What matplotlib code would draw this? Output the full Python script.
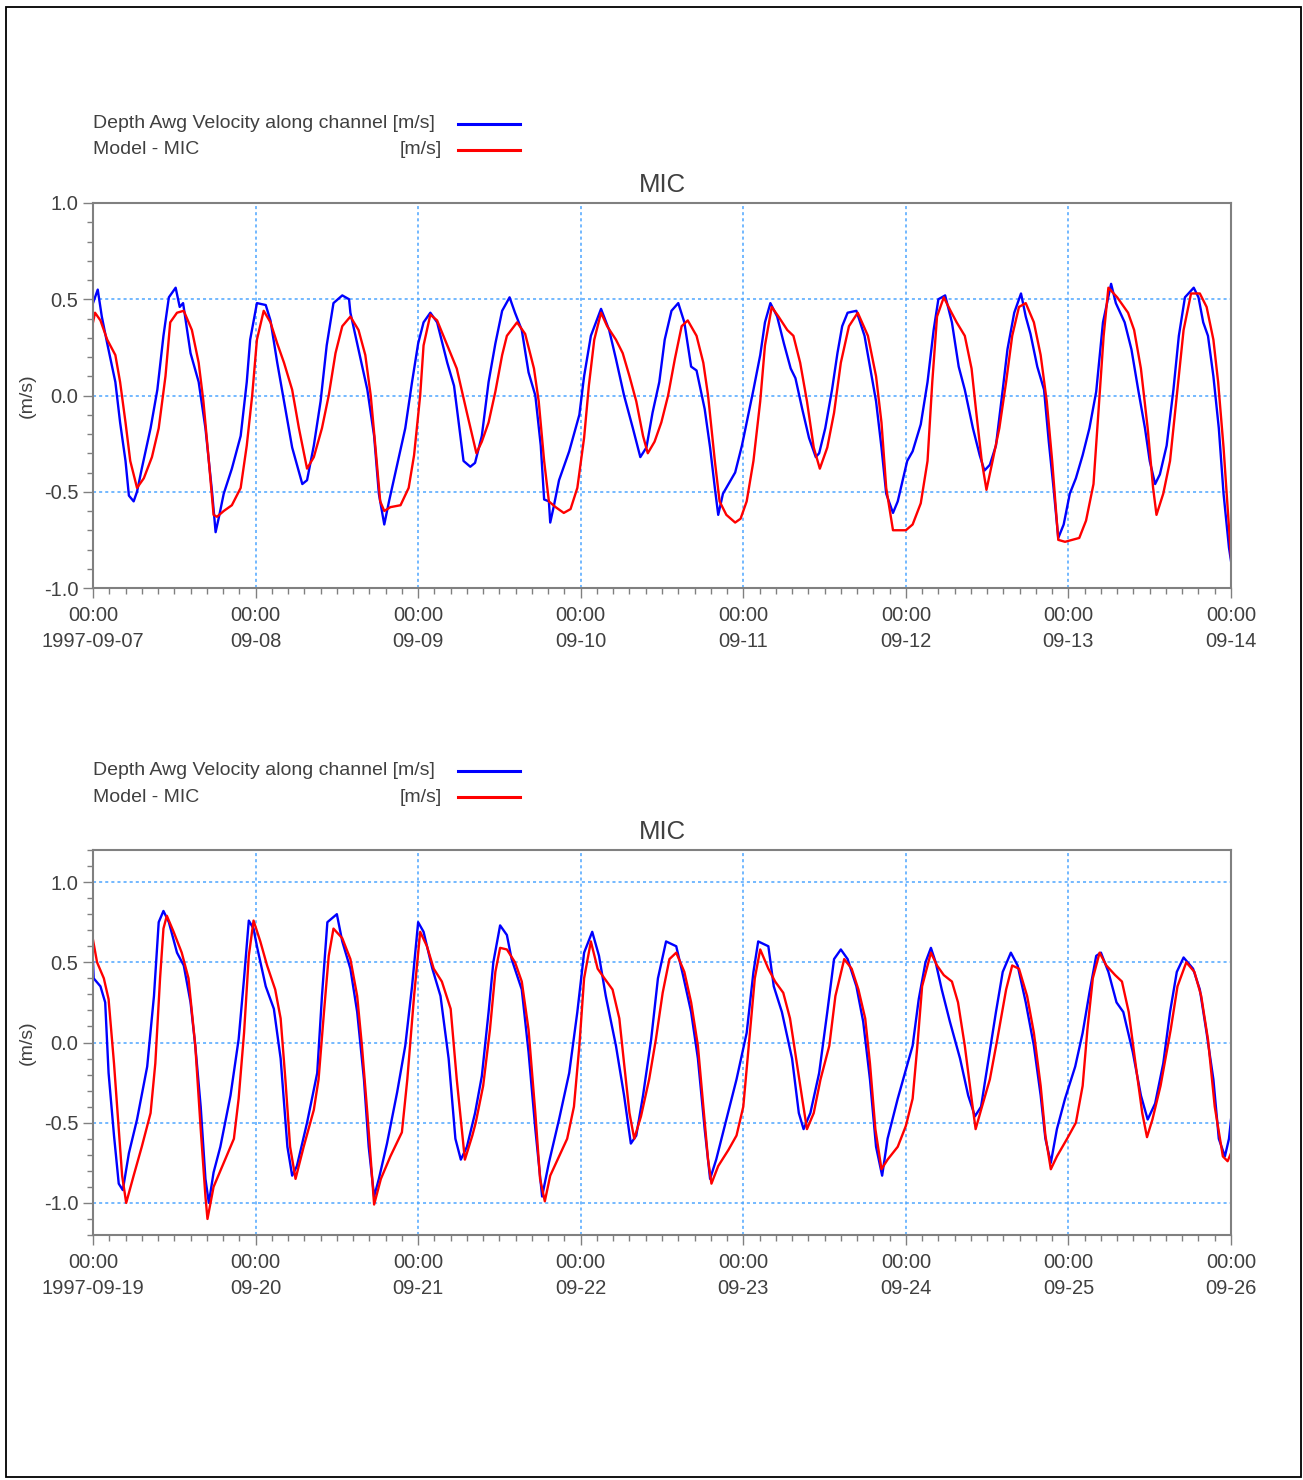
"""Observed vs modelled depth-averaged velocity at MIC, two one-week windows."""

import matplotlib

matplotlib.use("Agg")
import matplotlib.pyplot as plt  # noqa: E402
import numpy as np  # noqa: E402
import pandas as pd  # noqa: E402
from matplotlib.lines import Line2D  # noqa: E402
from matplotlib.patches import Rectangle  # noqa: E402
from matplotlib.ticker import FuncFormatter, MultipleLocator  # noqa: E402

# ---- data: hours since window start, velocity in m/s ----
TOP_START = "1997-09-07"
BOT_START = "1997-09-19"

TOP_OBS_T = [0, 0.7, 1.3, 2.1, 3.3, 4.0, 4.8, 5.3, 6.0, 6.5, 7.2, 8.5, 9.5, 10.4, 11.2, 12.2,
             12.8, 13.3, 14.4, 15.6, 16.6, 17.6, 18.1, 18.6, 19.3, 20.5, 21.8, 22.7, 23.2,
             24.2, 25.5, 26.2, 27.2, 28.2, 29.4, 30.9, 31.6, 32.6, 33.6, 34.5, 35.5, 36.8,
             37.8, 38.0, 39.0, 40.5, 41.5, 42.2, 43.0, 43.7, 44.9, 46.1, 47.1, 48.0, 48.8,
             49.8, 50.8, 52.3, 53.3, 54.7, 55.7, 56.4, 57.4, 58.4, 59.4, 60.4, 61.5, 62.3,
             63.3, 64.3, 65.3, 66.1, 66.6, 67.3, 67.5, 68.0, 68.8, 70.3, 71.8, 72.5, 73.5,
             75.0, 76.2, 77.2, 78.4, 79.7, 80.8, 81.7, 82.6, 83.6, 84.4, 85.4, 86.4, 87.3,
             88.3, 89.1, 90.3, 91.1, 91.8, 92.3, 93.0, 94.8, 95.8, 96.5, 97.5, 98.5, 99.2,
             100.0, 101.0, 102.0, 103.0, 103.7, 104.7, 105.7, 106.7, 107.2, 108.1, 109.1,
             109.9, 110.6, 111.4, 112.7, 113.9, 115.1, 115.6, 116.4, 117.1, 118.1, 118.8,
             120.2, 121.0, 122.2, 123.2, 124.1, 124.8, 125.8, 126.8, 127.8, 128.7, 129.9,
             130.9, 131.6, 132.4, 133.3, 134.3, 135.0, 136.0, 137.0, 137.7, 138.4, 139.4,
             140.4, 141.1, 141.8, 142.5, 143.3, 144.2, 145.1, 146.1, 147.1, 148.1, 149.1,
             150.3, 151.0, 152.3, 153.3, 154.3, 155.3, 156.0, 156.8, 157.5, 158.5, 159.5,
             160.3, 161.2, 162.5, 163.2, 163.9, 164.6, 165.4, 166.2, 166.9, 167.7, 168.0]
TOP_OBS_V = [0.48, 0.55, 0.41, 0.27, 0.07, -0.14, -0.34, -0.52, -0.55, -0.50, -0.38, -0.17,
             0.03, 0.31, 0.51, 0.56, 0.46, 0.48, 0.22, 0.07, -0.17, -0.51, -0.71, -0.63,
             -0.51, -0.38, -0.21, 0.07, 0.29, 0.48, 0.47, 0.39, 0.17, -0.03, -0.27, -0.46,
             -0.44, -0.26, -0.03, 0.26, 0.48, 0.52, 0.50, 0.43, 0.27, 0.03, -0.21, -0.51,
             -0.67, -0.55, -0.36, -0.17, 0.07, 0.27, 0.38, 0.43, 0.38, 0.17, 0.05, -0.34,
             -0.37, -0.35, -0.21, 0.07, 0.27, 0.44, 0.51, 0.43, 0.34, 0.12, 0.0, -0.26,
             -0.54, -0.55, -0.66, -0.58, -0.44, -0.29, -0.10, 0.10, 0.31, 0.45, 0.34, 0.19,
             0.0, -0.17, -0.32, -0.27, -0.09, 0.07, 0.29, 0.44, 0.48, 0.38, 0.15, 0.13,
             -0.07, -0.27, -0.48, -0.62, -0.51, -0.40, -0.26, -0.14, 0.03, 0.21, 0.38, 0.48,
             0.41, 0.27, 0.14, 0.09, -0.07, -0.22, -0.32, -0.30, -0.17, 0.03, 0.22, 0.36,
             0.43, 0.44, 0.31, 0.07, -0.03, -0.27, -0.51, -0.61, -0.55, -0.34, -0.29, -0.15,
             0.07, 0.34, 0.50, 0.52, 0.38, 0.15, 0.03, -0.17, -0.31, -0.39, -0.36, -0.26,
             0.03, 0.24, 0.43, 0.53, 0.41, 0.32, 0.15, 0.03, -0.24, -0.48, -0.74, -0.67,
             -0.51, -0.43, -0.31, -0.17, 0.02, 0.38, 0.58, 0.48, 0.38, 0.24, 0.03, -0.17,
             -0.34, -0.46, -0.41, -0.26, 0.03, 0.31, 0.51, 0.56, 0.51, 0.38, 0.31, 0.10,
             -0.17, -0.51, -0.79, -0.86]

TOP_MOD_T = [0, 0.3, 1.1, 2.1, 3.3, 4.0, 4.8, 5.5, 6.5, 7.5, 8.7, 9.7, 10.7, 11.4, 12.4, 13.4,
             14.6, 15.6, 16.3, 17.1, 17.8, 18.3, 19.3, 20.5, 21.8, 22.7, 23.5, 24.2, 25.2,
             26.2, 27.2, 28.2, 29.4, 30.4, 31.6, 32.6, 33.8, 34.8, 35.8, 36.8, 38.0, 39.2,
             40.2, 41.0, 41.7, 42.4, 43.0, 43.9, 45.4, 46.6, 47.4, 48.3, 48.8, 49.8, 50.8,
             52.3, 53.7, 55.2, 56.6, 57.4, 58.4, 59.4, 60.4, 61.1, 62.6, 63.8, 65.1, 65.8,
             66.6, 67.3, 68.3, 69.5, 70.5, 71.5, 72.5, 73.2, 74.0, 75.0, 75.9, 77.2, 78.2,
             79.2, 80.2, 81.2, 81.9, 82.9, 83.9, 84.9, 85.9, 86.9, 87.8, 89.1, 90.1, 90.8,
             91.8, 92.5, 93.5, 94.8, 95.6, 96.5, 97.5, 98.5, 99.2, 100.2, 101.2, 102.5, 103.4,
             104.4, 105.4, 106.4, 107.3, 108.4, 109.4, 110.4, 111.6, 112.9, 114.4, 115.6,
             116.4, 117.1, 118.1, 120.0, 121.0, 122.2, 123.2, 123.9, 124.6, 125.6, 126.6,
             127.5, 128.7, 129.7, 130.4, 131.2, 131.9, 132.8, 133.8, 134.8, 135.7, 136.7,
             137.7, 138.9, 139.9, 140.8, 141.6, 142.5, 143.5, 145.6, 146.6, 147.7, 148.4,
             149.2, 149.9, 151.2, 152.8, 153.7, 154.7, 155.7, 156.5, 157.0, 158.0, 159.0,
             160.0, 161.0, 162.1, 163.4, 164.4, 165.4, 166.1, 166.9, 167.7, 168.0]
TOP_MOD_V = [0.38, 0.43, 0.39, 0.29, 0.21, 0.07, -0.14, -0.34, -0.48, -0.43, -0.32, -0.17,
             0.10, 0.38, 0.43, 0.44, 0.34, 0.17, -0.03, -0.34, -0.62, -0.63, -0.60, -0.57,
             -0.48, -0.26, 0.0, 0.29, 0.44, 0.38, 0.27, 0.17, 0.03, -0.17, -0.38, -0.32,
             -0.17, 0.0, 0.22, 0.36, 0.41, 0.34, 0.21, 0.0, -0.27, -0.55, -0.60, -0.58,
             -0.57, -0.48, -0.31, 0.0, 0.26, 0.42, 0.39, 0.26, 0.14, -0.09, -0.30, -0.24,
             -0.14, 0.02, 0.21, 0.31, 0.38, 0.32, 0.14, -0.03, -0.34, -0.55, -0.58, -0.61,
             -0.59, -0.48, -0.22, 0.05, 0.29, 0.43, 0.36, 0.29, 0.22, 0.10, -0.03, -0.21,
             -0.30, -0.24, -0.14, 0.0, 0.19, 0.36, 0.39, 0.31, 0.17, 0.0, -0.34, -0.55,
             -0.62, -0.66, -0.64, -0.55, -0.34, -0.03, 0.26, 0.46, 0.41, 0.34, 0.31, 0.17,
             -0.03, -0.27, -0.38, -0.27, -0.09, 0.17, 0.36, 0.43, 0.31, 0.10, -0.14, -0.48,
             -0.70, -0.70, -0.67, -0.56, -0.34, 0.07, 0.41, 0.51, 0.44, 0.38, 0.31, 0.14,
             -0.09, -0.34, -0.49, -0.34, -0.17, 0.07, 0.31, 0.46, 0.48, 0.38, 0.21, -0.03,
             -0.34, -0.75, -0.76, -0.74, -0.65, -0.46, -0.10, 0.31, 0.56, 0.51, 0.43, 0.34,
             0.14, -0.17, -0.48, -0.62, -0.51, -0.34, 0.0, 0.34, 0.53, 0.53, 0.46, 0.29,
             0.07, -0.27, -0.68, -0.84]

BOT_OBS_T = [0, 0.1, 1.1, 1.8, 2.3, 3.1, 3.8, 4.4, 5.3, 6.5, 8.0, 9.0, 9.7, 10.4, 11.2, 12.4,
             13.4, 14.4, 15.1, 15.9, 16.6, 17.1, 17.8, 18.8, 20.3, 21.5, 22.3, 23.0, 23.7,
             24.2, 25.5, 26.7, 27.7, 28.7, 29.4, 30.1, 31.6, 33.1, 33.8, 34.6, 36.0, 36.8,
             38.0, 39.0, 40.0, 40.7, 41.5, 42.2, 43.4, 44.9, 46.1, 47.1, 48.0, 48.8, 50.1,
             51.3, 52.5, 53.5, 54.3, 55.2, 56.4, 57.4, 58.4, 59.1, 60.1, 61.1, 61.8, 63.3,
             64.3, 65.3, 66.3, 67.3, 68.8, 70.3, 71.5, 72.5, 73.7, 74.7, 75.7, 77.2, 78.4,
             79.4, 80.2, 81.2, 82.4, 83.4, 84.6, 86.1, 87.1, 88.3, 89.3, 90.3, 91.1, 92.0,
             93.5, 95.0, 96.5, 97.5, 98.2, 99.7, 100.5, 101.7, 103.2, 104.2, 104.9, 105.9,
             107.2, 108.4, 109.4, 110.4, 111.4, 112.7, 113.7, 114.7, 115.6, 116.5, 117.3,
             118.8, 120.0, 121.0, 121.9, 122.9, 123.7, 124.4, 125.3, 126.5, 128.0, 129.2,
             130.2, 131.1, 132.1, 133.3, 134.3, 135.5, 136.5, 137.7, 138.9, 139.9, 140.6,
             141.4, 142.3, 143.5, 145.0, 146.1, 147.1, 148.1, 148.8, 149.9, 151.1, 152.1,
             153.5, 154.7, 155.7, 156.8, 158.0, 159.0, 160.0, 161.0, 162.4, 163.4, 164.4,
             165.4, 166.2, 167.1, 167.7, 168.0]
BOT_OBS_V = [0.50, 0.40, 0.35, 0.25, -0.19, -0.58, -0.88, -0.92, -0.69, -0.48, -0.15, 0.29,
             0.75, 0.82, 0.75, 0.56, 0.48, 0.25, -0.02, -0.40, -0.85, -1.0, -0.81, -0.65,
             -0.33, 0.02, 0.40, 0.76, 0.71, 0.60, 0.35, 0.21, -0.10, -0.65, -0.83, -0.77,
             -0.50, -0.19, 0.29, 0.75, 0.80, 0.63, 0.46, 0.19, -0.23, -0.65, -0.96, -0.85,
             -0.63, -0.31, -0.02, 0.35, 0.75, 0.69, 0.46, 0.29, -0.10, -0.60, -0.73, -0.65,
             -0.44, -0.21, 0.19, 0.50, 0.73, 0.67, 0.52, 0.33, -0.06, -0.54, -0.96, -0.75,
             -0.48, -0.19, 0.19, 0.56, 0.69, 0.54, 0.29, -0.02, -0.33, -0.63, -0.58, -0.33,
             0.02, 0.40, 0.63, 0.60, 0.42, 0.19, -0.10, -0.54, -0.85, -0.73, -0.48, -0.23,
             0.06, 0.44, 0.63, 0.60, 0.35, 0.19, -0.10, -0.44, -0.54, -0.44, -0.19, 0.19,
             0.52, 0.58, 0.52, 0.35, 0.13, -0.23, -0.65, -0.83, -0.60, -0.35, -0.17, -0.02,
             0.27, 0.50, 0.59, 0.50, 0.33, 0.13, -0.10, -0.33, -0.46, -0.40, -0.13, 0.19,
             0.44, 0.56, 0.48, 0.25, -0.02, -0.33, -0.60, -0.75, -0.54, -0.35, -0.15, 0.06,
             0.31, 0.54, 0.56, 0.44, 0.25, 0.19, -0.06, -0.33, -0.48, -0.38, -0.13, 0.19,
             0.44, 0.53, 0.46, 0.33, 0.06, -0.23, -0.60, -0.71, -0.60, -0.48]

BOT_MOD_T = [0, 0.6, 1.6, 2.3, 3.1, 3.8, 4.3, 4.9, 6.0, 7.2, 8.5, 9.2, 9.9, 10.4, 10.9, 11.9,
             13.1, 14.1, 15.1, 15.9, 16.6, 16.9, 17.8, 19.3, 20.8, 21.5, 22.3, 23.0, 23.7,
             24.7, 25.7, 26.9, 27.7, 28.4, 29.1, 29.9, 31.1, 32.6, 33.3, 34.1, 34.8, 35.5,
             36.8, 38.0, 39.0, 39.7, 40.5, 41.5, 42.5, 43.9, 45.6, 46.4, 47.4, 48.3, 49.3,
             50.3, 51.5, 52.8, 53.7, 54.9, 56.0, 56.5, 57.6, 58.6, 59.4, 60.1, 61.1, 62.3,
             63.3, 64.3, 65.3, 66.0, 66.7, 67.5, 68.8, 70.0, 71.0, 71.8, 72.5, 73.5, 74.5,
             75.5, 76.7, 77.7, 78.4, 79.2, 79.9, 80.9, 82.1, 83.1, 84.1, 85.1, 86.1, 87.3,
             88.3, 89.3, 90.1, 90.8, 91.3, 92.3, 93.8, 95.0, 96.0, 96.8, 97.7, 98.5, 99.7,
             100.7, 101.9, 102.9, 103.9, 104.7, 105.4, 106.4, 107.4, 108.7, 109.6, 110.9,
             112.0, 113.0, 114.0, 114.7, 115.5, 116.4, 117.3, 118.8, 120.0, 121.0, 121.7,
             122.4, 123.7, 124.6, 125.6, 126.8, 127.7, 128.7, 129.7, 130.3, 131.1, 132.4,
             133.5, 134.8, 135.7, 136.7, 137.9, 138.9, 139.9, 140.6, 141.4, 142.3, 143.8,
             145.1, 146.1, 146.8, 147.6, 148.6, 149.6, 150.9, 151.9, 152.9, 153.9, 154.9,
             155.6, 156.4, 157.6, 159.1, 160.1, 161.4, 162.6, 163.6, 164.6, 165.6, 166.8,
             167.5, 168.0]
BOT_MOD_V = [0.64, 0.50, 0.40, 0.27, -0.13, -0.54, -0.83, -1.0, -0.83, -0.65, -0.44, -0.13,
             0.40, 0.71, 0.79, 0.69, 0.56, 0.40, -0.02, -0.54, -0.96, -1.10, -0.90, -0.75,
             -0.60, -0.35, 0.06, 0.54, 0.76, 0.63, 0.48, 0.33, 0.15, -0.23, -0.65, -0.85,
             -0.65, -0.42, -0.23, 0.19, 0.54, 0.71, 0.65, 0.52, 0.29, -0.02, -0.44, -1.01,
             -0.85, -0.71, -0.56, -0.23, 0.29, 0.69, 0.60, 0.46, 0.38, 0.21, -0.23, -0.73,
             -0.58, -0.50, -0.27, 0.08, 0.44, 0.59, 0.58, 0.50, 0.38, 0.08, -0.44, -0.85,
             -0.99, -0.83, -0.71, -0.60, -0.40, -0.02, 0.40, 0.63, 0.46, 0.40, 0.33, 0.15,
             -0.13, -0.44, -0.60, -0.46, -0.23, 0.02, 0.31, 0.52, 0.56, 0.44, 0.25, -0.02,
             -0.40, -0.73, -0.88, -0.77, -0.67, -0.58, -0.40, -0.02, 0.40, 0.58, 0.46, 0.38,
             0.31, 0.15, -0.13, -0.35, -0.54, -0.44, -0.23, -0.02, 0.29, 0.52, 0.46, 0.33,
             0.15, -0.13, -0.54, -0.79, -0.73, -0.65, -0.52, -0.35, -0.02, 0.35, 0.56, 0.48,
             0.42, 0.38, 0.25, -0.02, -0.35, -0.54, -0.42, -0.23, 0.02, 0.33, 0.48, 0.46,
             0.29, 0.06, -0.27, -0.58, -0.79, -0.71, -0.60, -0.50, -0.27, 0.08, 0.40, 0.56,
             0.48, 0.42, 0.38, 0.19, -0.13, -0.44, -0.59, -0.48, -0.27, 0.08, 0.35, 0.50,
             0.44, 0.29, 0.02, -0.40, -0.71, -0.74, -0.69]

OBS_LABEL = "Depth Awg Velocity along channel [m/s]"
MOD_LABEL = "Model - MIC"
MOD_UNITS = "[m/s]"
STATION = "MIC"

W, H = 1303, 1480
TEXT = "#404040"
EDGE = "#808080"
GRID = "#4da6ff"
FONT = ["Liberation Sans", "DejaVu Sans"]


def _times(start, hours):
    return pd.Timestamp(start) + pd.to_timedelta(np.asarray(hours), unit="h")


def _tick_fmt(start):
    t0 = matplotlib.dates.date2num(pd.Timestamp(start))

    def fmt(x, pos):
        d = matplotlib.dates.num2date(x)
        day = d.strftime("%Y-%m-%d") if abs(x - t0) < 1e-6 else d.strftime("%m-%d")
        return f"{d:%H:%M}\n{day}"
    return FuncFormatter(fmt)


def panel(fig, top_px, start, obs_t, obs_v, mod_t, mod_v, ylim, yticks):
    left, right, height = 93, 1231, 385
    ax = fig.add_axes([left / W, 1 - (top_px + height) / H, (right - left) / W, height / H])

    ax.plot(_times(start, obs_t), obs_v, color="#0000ff", lw=1.7)
    ax.plot(_times(start, mod_t), mod_v, color="#ff0000", lw=1.7)

    t0 = pd.Timestamp(start)
    ax.set_xlim(t0, t0 + pd.Timedelta(days=7))
    ax.set_ylim(*ylim)
    ax.xaxis.set_major_locator(MultipleLocator(1))
    ax.xaxis.set_minor_locator(MultipleLocator(0.1))
    ax.xaxis.set_major_formatter(_tick_fmt(start))
    ax.set_yticks(yticks)
    ax.yaxis.set_minor_locator(MultipleLocator(0.1))
    ax.yaxis.set_major_formatter(FuncFormatter(lambda v, p: f"{v:.1f}"))

    ax.tick_params(which="both", direction="out", color=EDGE, width=1.0,
                   labelcolor=TEXT, labelsize=14.5)
    ax.tick_params(which="major", length=7)
    ax.tick_params(which="minor", length=4.2)
    ax.tick_params(axis="x", which="major", pad=6)
    for lab in ax.get_xticklabels():
        lab.set_linespacing(1.45)
    for s in ax.spines.values():
        s.set_color(EDGE)
        s.set_linewidth(1.5)
    ax.grid(which="major", color=GRID, linestyle=(0, (2, 2)), linewidth=1.1)

    ax.set_title(STATION, fontsize=18.5, color=TEXT, pad=8)
    ax.set_ylabel("(m/s)", fontsize=14, color=TEXT)
    ax.yaxis.set_label_coords(-0.05, 0.5)

    # legend sits above the axes: labels left, units right-aligned, swatch after
    rows = [(OBS_LABEL, "", "#0000ff"), (MOD_LABEL, MOD_UNITS, "#ff0000")]
    for row, (label, units, color) in enumerate(rows):
        y = 1 - (top_px - 79 + 26 * row) / H
        fig.text(93 / W, y, label, fontsize=14, color=TEXT, va="center", ha="left")
        if units:
            fig.text(442 / W, y, units, fontsize=14, color=TEXT, va="center", ha="right")
        fig.add_artist(Line2D([458 / W, 520 / W], [y, y], color=color, lw=2.2,
                              transform=fig.transFigure))
    return ax


def main():
    plt.rcParams["font.family"] = FONT
    fig = plt.figure(figsize=(W / 100, H / 100), dpi=100)

    panel(fig, 203, TOP_START, TOP_OBS_T, TOP_OBS_V, TOP_MOD_T, TOP_MOD_V,
          (-1.0, 1.0), [-1.0, -0.5, 0.0, 0.5, 1.0])
    panel(fig, 850, BOT_START, BOT_OBS_T, BOT_OBS_V, BOT_MOD_T, BOT_MOD_V,
          (-1.2, 1.2), [-1.0, -0.5, 0.0, 0.5, 1.0])

    fig.add_artist(Rectangle((6 / W, 3 / H), 1295 / W, 1470 / H, transform=fig.transFigure,
                             fill=False, edgecolor="black", lw=1.3))
    fig.savefig("out.png", dpi=100)
    plt.close(fig)
    print("wrote out.png")


if __name__ == "__main__":
    main()
